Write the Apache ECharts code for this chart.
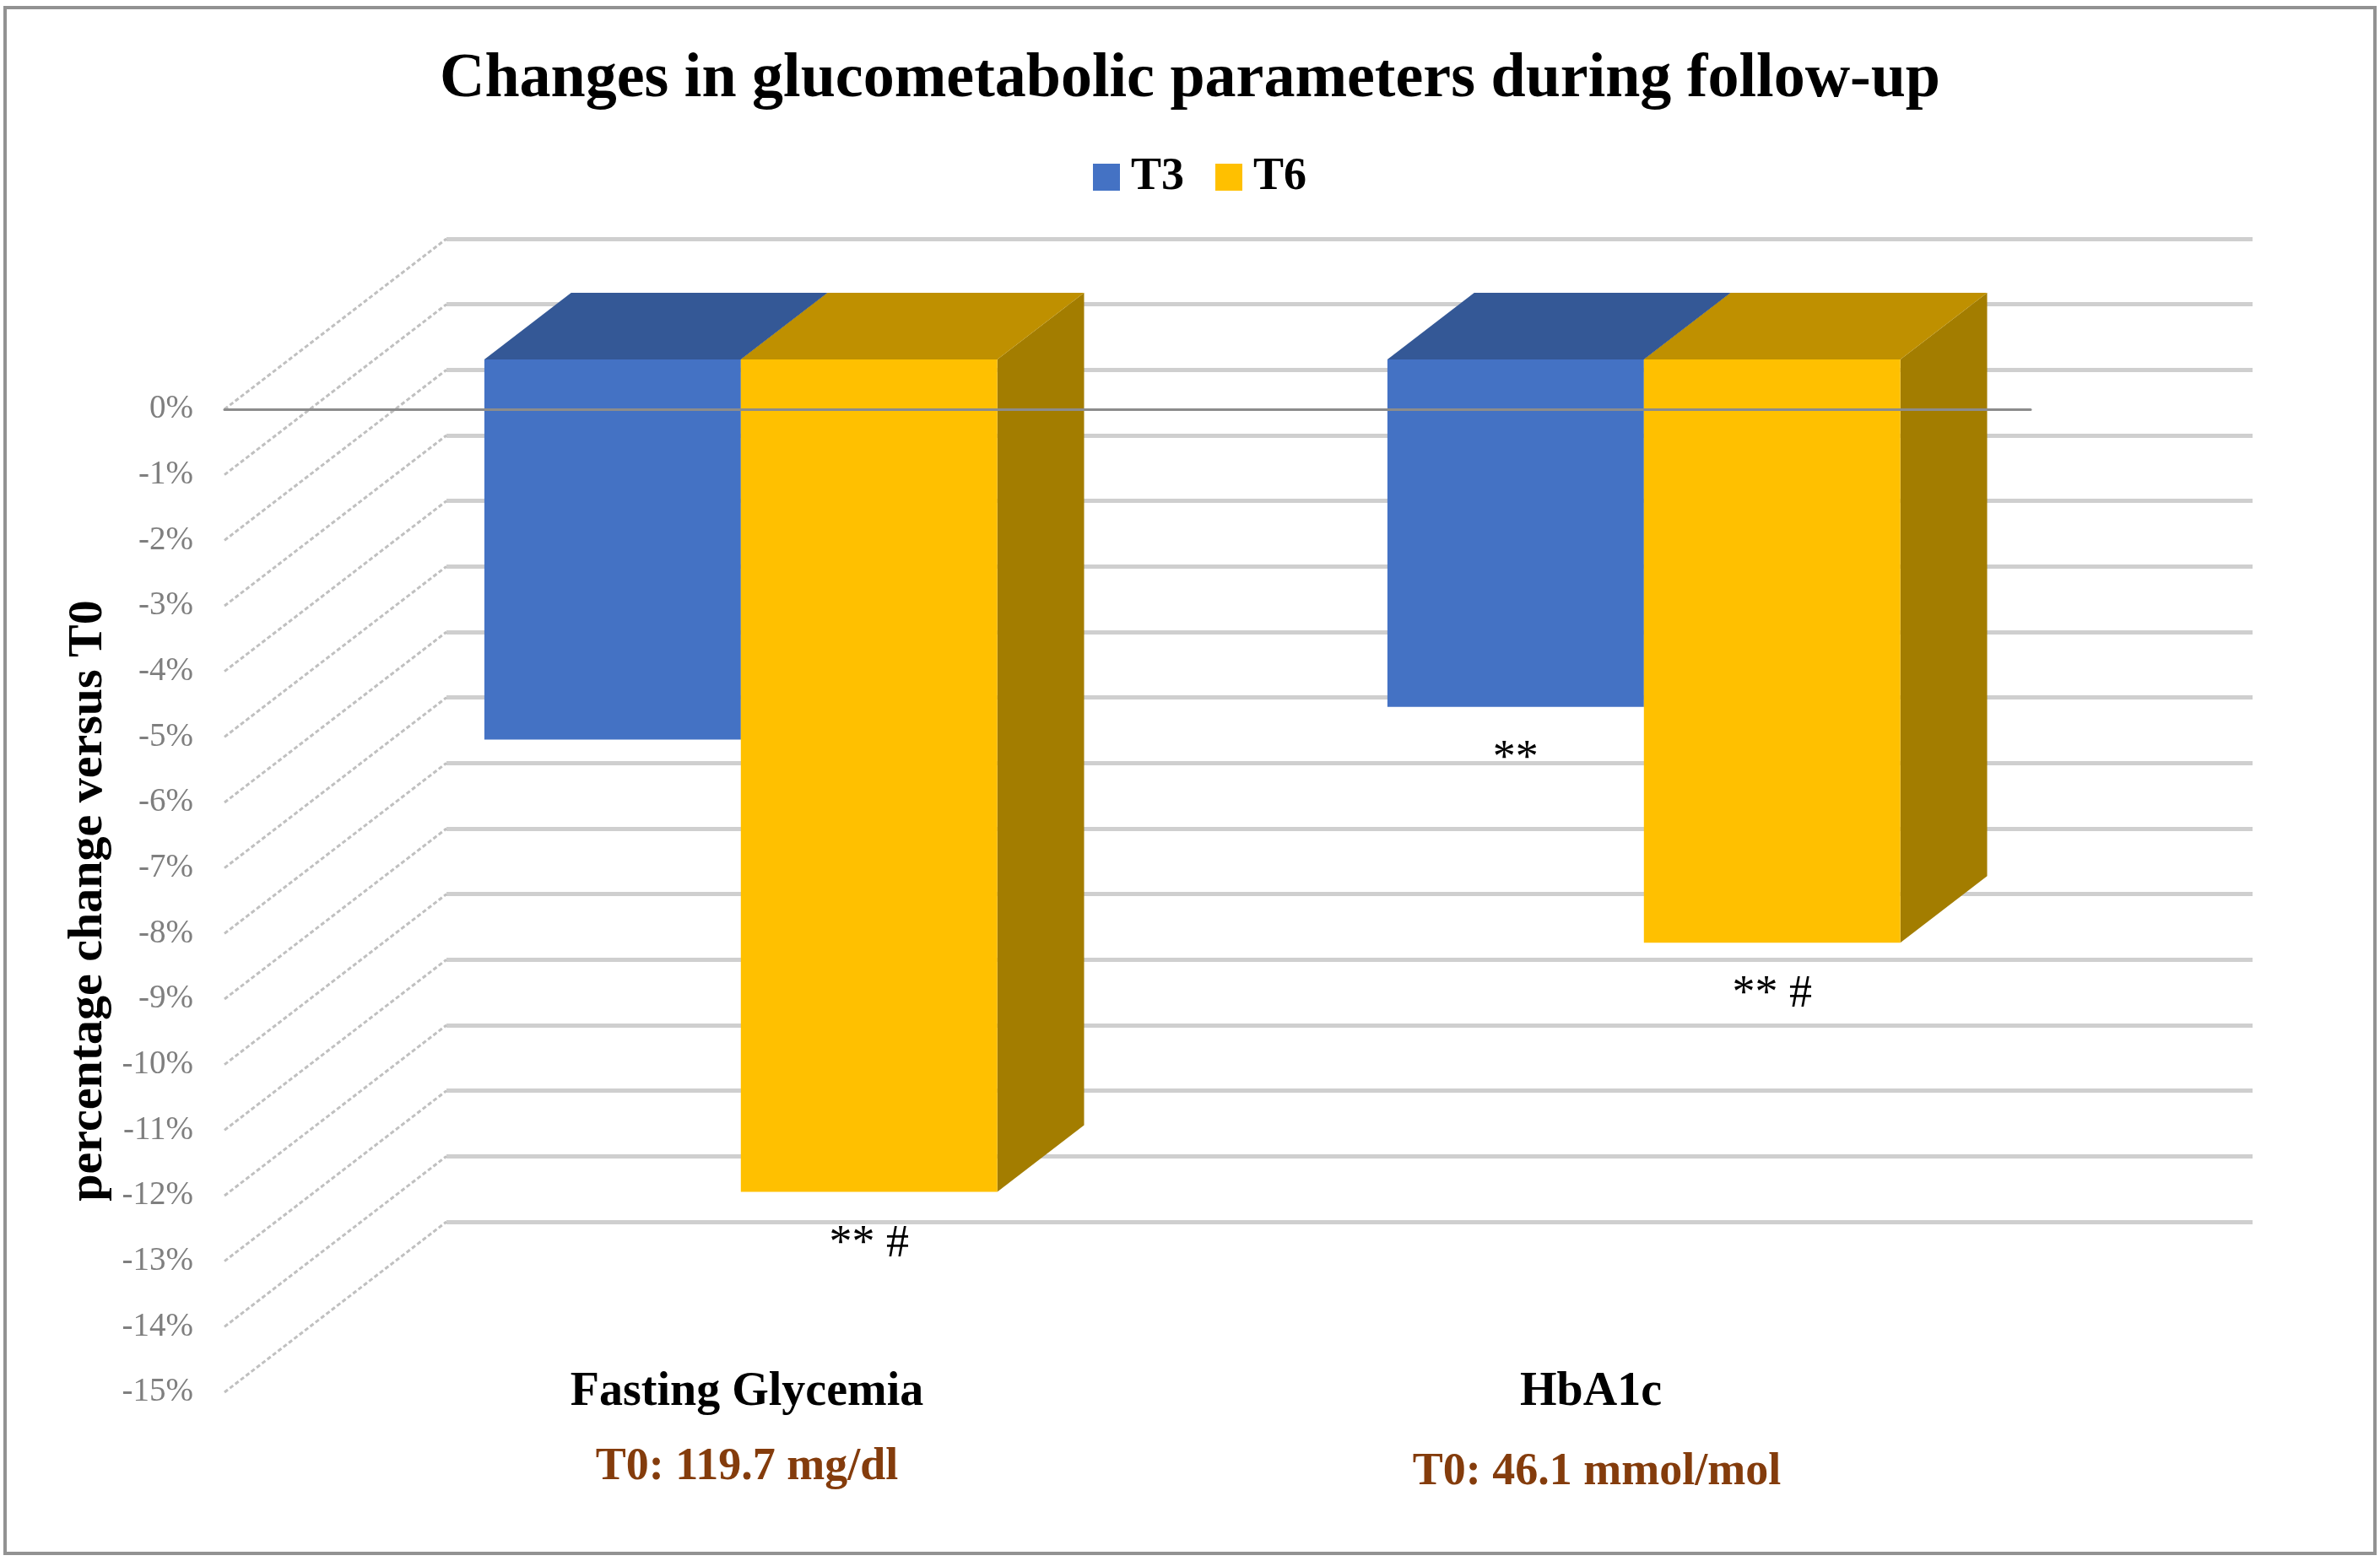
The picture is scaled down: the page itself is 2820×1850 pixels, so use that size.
<!DOCTYPE html>
<html>
<head>
<meta charset="utf-8">
<script src="https://cdn.jsdelivr.net/npm/echarts/dist/echarts.min.js"></script>
<style>
html,body{margin:0;padding:0;background:#fff;}
#chart{width:2820px;height:1850px;}
</style>
</head>
<body>
<div id="chart"></div>
<script>
// ---- data ----
const categories = ['Fasting Glycemia', 'HbA1c'];
const baselineLabels = ['T0: 119.7 mg/dl', 'T0: 46.1 mmol/mol'];
const seriesNames = ['T3', 'T6'];
const t3Values = [-5.8, -5.3];
const t6Values = [-12.7, -8.9];
const t3Marks = ['', '**'];
const t6Marks = ['** #', '** #'];
const yTicks = [0, -1, -2, -3, -4, -5, -6, -7, -8, -9, -10, -11, -12, -13, -14, -15];

// ---- style / layout constants ----
const FONT = "'Palatino Linotype','Book Antiqua',Palatino,'Liberation Serif',serif";
const FRONT = { left: 266, top: 485, width: 2140, height: 1165 };
const DEPTH = { dx: 263, dy: -202 };
const T_FRONT = 0.292, T_BACK = 0.683;
const BAR_FRAC = 0.284;
const MARK_GAP = 62;
const COLORS = {
  T3: { front: '#4472C4', top: '#345896', side: '#2C4C84' },
  T6: { front: '#FFC000', top: '#BF9000', side: '#A37D00' }
};

function barRenderer(side, colors, marks) {
  return function (params, api) {
    const cat = api.value(0), val = api.value(1);
    const p0 = api.coord([cat, 0]);
    const p1 = api.coord([cat, val]);
    const band = api.size([1, 0])[0];
    const w = band * BAR_FRAC;
    const L = side < 0 ? p0[0] - w : p0[0];
    const R = L + w;
    const ax = DEPTH.dx * T_FRONT, ay = DEPTH.dy * T_FRONT;
    const bx = DEPTH.dx * T_BACK, by = DEPTH.dy * T_BACK;
    const y0 = p0[1], y1 = p1[1];
    const children = [
      { type: 'polygon', shape: { points: [[R + ax, y0 + ay], [R + bx, y0 + by], [R + bx, y1 + by], [R + ax, y1 + ay]] }, style: { fill: colors.side } },
      { type: 'polygon', shape: { points: [[L + ax, y0 + ay], [R + ax, y0 + ay], [R + bx, y0 + by], [L + bx, y0 + by]] }, style: { fill: colors.top } },
      { type: 'rect', shape: { x: L + ax, y: y0 + ay, width: w, height: y1 - y0 }, style: { fill: colors.front } }
    ];
    const mark = marks[params.dataIndex];
    if (mark) {
      children.push({
        type: 'text',
        style: { text: mark, x: (L + R) / 2 + ax, y: y1 + ay + MARK_GAP, align: 'center', verticalAlign: 'middle',
                 fontFamily: FONT, fontSize: 54, fill: '#000' }
      });
    }
    return { type: 'group', children: children };
  };
}

function wallRenderer(params, api) {
  const cs = params.coordSys;
  const p = api.coord([0, api.value(1)]);
  return {
    type: 'line',
    shape: { x1: cs.x, y1: p[1], x2: cs.x + DEPTH.dx, y2: p[1] + DEPTH.dy },
    style: { stroke: '#c0c0c0', lineWidth: 3, lineDash: [5, 3] }
  };
}

const chart = echarts.init(document.getElementById('chart'), null, { renderer: 'canvas' });

const option = {
  backgroundColor: '#ffffff',
  animation: false,
  title: {
    text: 'Changes in glucometabolic parameters during follow-up',
    left: 'center',
    top: 53,
    textStyle: { fontFamily: FONT, fontSize: 74, fontWeight: 'bold', color: '#000' }
  },
  legend: {
    top: 178,
    left: 1290,
    itemWidth: 32,
    itemHeight: 32,
    itemGap: 37,
    icon: 'rect',
    data: [
      { name: seriesNames[0], itemStyle: { color: COLORS.T3.front } },
      { name: seriesNames[1], itemStyle: { color: COLORS.T6.front } }
    ],
    textStyle: { fontFamily: FONT, fontSize: 54, fontWeight: 'bold', color: '#000', padding: [0, 0, 0, 8] }
  },
  graphic: [{
    type: 'rect',
    shape: { x: 6, y: 9, width: 2808, height: 1832 },
    style: { fill: 'none', stroke: '#929292', lineWidth: 4 },
    silent: true
  }],
  grid: [
    { left: FRONT.left, top: FRONT.top, width: FRONT.width, height: FRONT.height, containLabel: false, outerBoundsMode: 'none' },
    { left: FRONT.left + DEPTH.dx, top: FRONT.top + DEPTH.dy, width: FRONT.width, height: FRONT.height, containLabel: false, outerBoundsMode: 'none' }
  ],
  xAxis: [
    {
      gridIndex: 0, type: 'category', data: categories, position: 'top', z: 10,
      axisLine: { show: true, onZero: false, lineStyle: { color: '#8c8c8c', width: 3 } },
      axisTick: { show: false }, axisLabel: { show: false }, splitLine: { show: false }
    },
    {
      gridIndex: 0, type: 'category', data: categories, position: 'bottom',
      axisLine: { show: false, onZero: false }, axisTick: { show: false }, splitLine: { show: false },
      axisLabel: {
        show: true, margin: -43, interval: 0,
        formatter: function (v, i) { return '{n' + i + '|' + v + '}\n{t' + i + '|' + baselineLabels[i] + '}'; },
        rich: {
          n0: { fontFamily: FONT, fontSize: 56, fontWeight: 'bold', color: '#000', lineHeight: 88, padding: [0, 0, 0, 168] },
          t0: { fontFamily: FONT, fontSize: 54, fontWeight: 'bold', color: '#843C0C', lineHeight: 88, padding: [0, 0, 0, 168] },
          n1: { fontFamily: FONT, fontSize: 56, fontWeight: 'bold', color: '#000', lineHeight: 88, padding: [0, 0, 0, 28] },
          t1: { fontFamily: FONT, fontSize: 54, fontWeight: 'bold', color: '#843C0C', lineHeight: 100, padding: [0, 0, 0, 42] }
        }
      }
    },
    {
      gridIndex: 1, type: 'category', data: categories, show: false
    }
  ],
  yAxis: [
    {
      gridIndex: 0, type: 'value', min: -15, max: 0, interval: 1,
      axisLine: { show: false }, axisTick: { show: false }, splitLine: { show: false },
      axisLabel: { formatter: function (v) { return v + '%'; }, color: '#7f7f7f', fontFamily: FONT, fontSize: 39, margin: 37 },
      name: 'percentage change versus T0', nameLocation: 'middle', nameGap: 100, nameRotate: 90,
      nameTextStyle: { fontFamily: FONT, fontSize: 58, fontWeight: 'bold', color: '#000' }
    },
    {
      gridIndex: 1, type: 'value', min: -15, max: 0, interval: 1,
      axisLine: { show: false }, axisTick: { show: false }, axisLabel: { show: false },
      splitLine: { show: true, lineStyle: { color: '#cfcfcf', width: 5 } }
    }
  ],
  series: [
    {
      type: 'custom', name: 'wall', xAxisIndex: 0, yAxisIndex: 0, silent: true, z: 1,
      data: yTicks.map(function (v) { return [0, v]; }),
      encode: { x: 0, y: 1 },
      renderItem: wallRenderer
    },
    {
      type: 'custom', name: seriesNames[0], xAxisIndex: 0, yAxisIndex: 0, z: 3,
      itemStyle: { color: COLORS.T3.front },
      data: t3Values.map(function (v, i) { return [i, v]; }),
      encode: { x: 0, y: 1 },
      renderItem: barRenderer(-1, COLORS.T3, t3Marks)
    },
    {
      type: 'custom', name: seriesNames[1], xAxisIndex: 0, yAxisIndex: 0, z: 4,
      itemStyle: { color: COLORS.T6.front },
      data: t6Values.map(function (v, i) { return [i, v]; }),
      encode: { x: 0, y: 1 },
      renderItem: barRenderer(1, COLORS.T6, t6Marks)
    }
  ]
};

chart.setOption(option);
</script>
</body>
</html>
